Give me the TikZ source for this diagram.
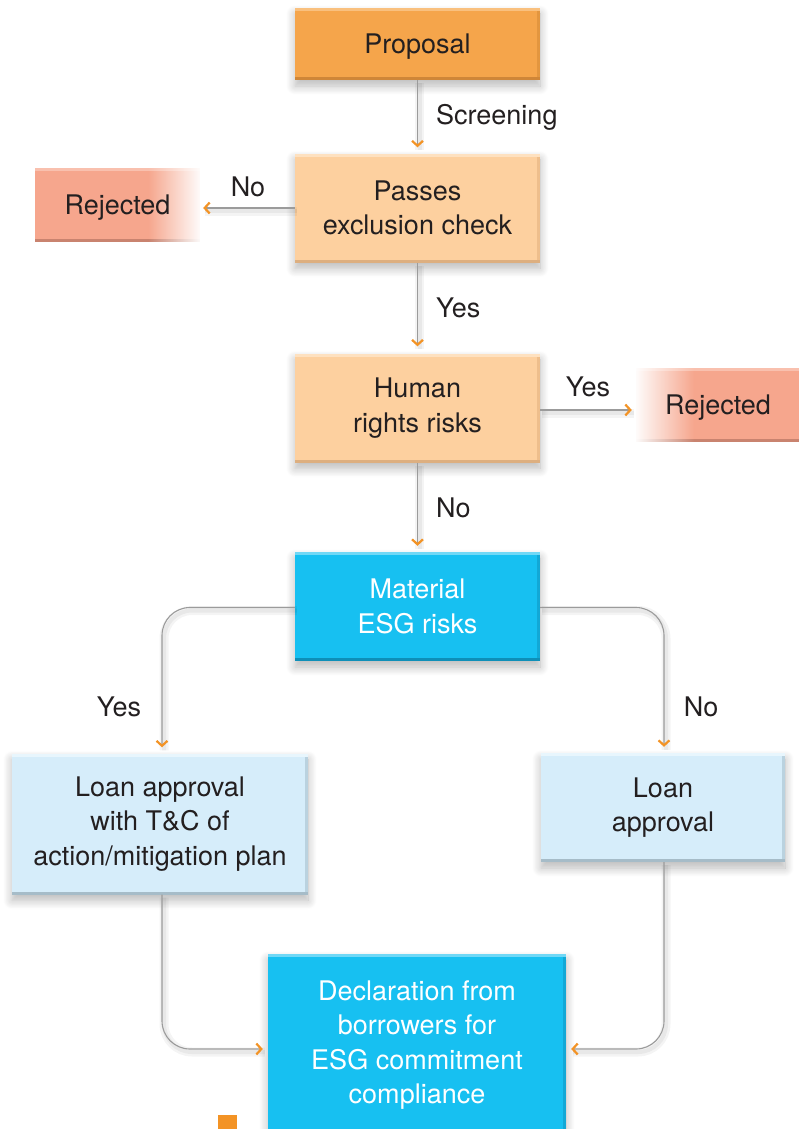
\documentclass[tikz,border=0pt]{standalone}
\usepackage{fontspec}
\setmainfont{TeX Gyre Heros}
\usetikzlibrary{arrows.meta,shadows.blur,fadings}

\definecolor{txt}{HTML}{231F20}
\definecolor{wire}{HTML}{9B9B9B}
\definecolor{tipor}{HTML}{F39325}
\definecolor{propF}{HTML}{F5A54B}
\definecolor{propT}{HTML}{F9C07E}
\definecolor{propB}{HTML}{CF8638}
\definecolor{propR}{HTML}{E3963F}
\definecolor{peachF}{HTML}{FDD09F}
\definecolor{peachT}{HTML}{FEE1C0}
\definecolor{peachB}{HTML}{DDAF80}
\definecolor{peachR}{HTML}{EEBE8C}
\definecolor{cyanF}{HTML}{17C0F1}
\definecolor{cyanT}{HTML}{70D8F6}
\definecolor{cyanB}{HTML}{0E8FB8}
\definecolor{cyanR}{HTML}{12A8D6}
\definecolor{paleF}{HTML}{D6EDFA}
\definecolor{paleT}{HTML}{E8F6FD}
\definecolor{paleB}{HTML}{A6BCC8}
\definecolor{paleR}{HTML}{BAD2DF}
\definecolor{rejF}{HTML}{F6A68D}
\definecolor{rejT}{HTML}{F9C0AE}
\definecolor{rejB}{HTML}{C9836F}

\tikzfading[name=fadeinright, left color=transparent!100, right color=transparent!0]
\tikzfading[name=fadeinleft, left color=transparent!0, right color=transparent!100]

\tikzset{
  bevel/.style n args={4}{
    fill=#1,
    path picture={
      \fill[#4] ([xshift=-3pt]path picture bounding box.north east) rectangle (path picture bounding box.south east);
      \fill[#2] (path picture bounding box.north west) rectangle ([yshift=-3pt]path picture bounding box.north east);
      \fill[#3] ([yshift=3pt]path picture bounding box.south west) rectangle (path picture bounding box.south east);
    }},
  card/.style={rectangle, inner sep=0pt, align=center, text=txt,
    font=\fontsize{27}{34.5}\selectfont,
    blur shadow={shadow xshift=0pt, shadow yshift=-6pt, shadow blur radius=9pt,
      shadow opacity=28, shadow blur steps=12}},
  oneline/.style={text height=19.5pt, text depth=0pt},
  propbox/.style={card, oneline, bevel={propF}{propT}{propB}{propR}},
  peachbox/.style={card, bevel={peachF}{peachT}{peachB}{peachR}},
  cyanbox/.style={card, text=white, bevel={cyanF}{cyanT}{cyanB}{cyanR}},
  palebox/.style={card, bevel={paleF}{paleT}{paleB}{paleR}},
  % rejection boxes: solid fill, fading to white on their open side
  rejbox/.style={rectangle, inner sep=0pt, text=txt, oneline,
    font=\fontsize{27}{34.5}\selectfont},
  rejopenright/.style={rejbox, fill=rejF,
    path picture={
      \fill[rejT] (path picture bounding box.north west) rectangle ([yshift=-3pt]path picture bounding box.north east);
      \fill[rejB] ([yshift=3pt]path picture bounding box.south west) rectangle (path picture bounding box.south east);
      \fill[white, path fading=fadeinright] ([xshift=-52pt]path picture bounding box.north east) rectangle ([xshift=2pt]path picture bounding box.south east);
    }},
  rejopenleft/.style={rejbox, fill=rejF,
    path picture={
      \fill[rejT] (path picture bounding box.north west) rectangle ([yshift=-3pt]path picture bounding box.north east);
      \fill[rejB] ([yshift=3pt]path picture bounding box.south west) rectangle (path picture bounding box.south east);
      \fill[white, path fading=fadeinleft] ([xshift=-2pt]path picture bounding box.north west) rectangle ([xshift=58pt]path picture bounding box.south west);
    }},
  lbl/.style={text=txt, inner sep=0pt, font=\fontsize{27}{34.5}\selectfont},
  flow/.style={draw=wire, line width=1.1pt,
    preaction={draw=black, draw opacity=0.045, line width=9pt, arrows=-,
      transform canvas={xshift=2pt, yshift=-3pt}},
    preaction={draw=black, draw opacity=0.05, line width=4pt, arrows=-,
      transform canvas={xshift=2pt, yshift=-3pt}},
    -{Straight Barb[color=tipor, length=5pt, width=11pt, line width=2.2pt]}},
}

\begin{document}
\begin{tikzpicture}[x=1pt, y=-1pt]
\useasboundingbox (0,0) rectangle (798,1129);

% decision chain
\node[propbox, minimum width=245pt, minimum height=72pt] (prop) at (417.5,44) {Proposal};
\node[peachbox, minimum width=245pt, minimum height=109pt] (pass) at (417.5,208) {Passes\\exclusion check};
\node[peachbox, minimum width=245pt, minimum height=109pt] (human) at (417.5,408) {Human\\rights risks};
\node[cyanbox, minimum width=245pt, minimum height=109pt] (mat) at (417.5,606.5) {Material\\ESG risks};

% rejections
\node[rejopenright, minimum width=165pt, minimum height=74pt] (rejL) at (117.5,205) {Rejected};
\node[rejopenleft, minimum width=164pt, minimum height=74pt] (rejR) at (718,405) {Rejected};

% outcomes
\node[palebox, minimum width=296pt, minimum height=141pt] (loantc) at (160,824) {Loan approval\\with T\&C of\\action/mitigation plan};
\node[palebox, minimum width=244pt, minimum height=109pt] (loan) at (663,807.5) {Loan\\approval};
\node[cyanbox, minimum width=298pt, minimum height=182pt] (decl) at (417,1045) {Declaration from\\borrowers for\\ESG commitment\\compliance};

\fill[tipor] (218,1115) rectangle (237,1135);

% connectors
\draw[flow, shorten >=6pt] (prop.south) -- (pass.north);
\draw[flow, shorten >=3pt] (pass.west) -- (pass.west -| rejL.east);
\draw[flow, shorten >=7pt] (pass.south) -- (human.north);
\draw[flow, shorten >=4pt] ([yshift=-2pt]human.east) -- ([yshift=-2pt]human.east -| rejR.west);
\draw[flow, shorten >=6pt] (human.south) -- (mat.north);
\draw[flow, shorten >=6pt, rounded corners=28pt] ([yshift=-1pt]mat.west) -| ([xshift=2pt]loantc.north);
\draw[flow, shorten >=6pt, rounded corners=28pt] ([yshift=-1pt]mat.east) -| ([xshift=1pt]loan.north);
\draw[flow, shorten >=5pt, rounded corners=28pt] ([xshift=2pt]loantc.south) |- ([yshift=-4pt]decl.west);
\draw[flow, shorten >=5pt, rounded corners=28pt] ([xshift=1pt]loan.south) |- ([yshift=-4pt]decl.east);

% connector labels
\node[lbl, anchor=west] (lscreen) at (436,117) {Screening};
\node[lbl] (lnoL) at (248,187) {No};
\node[lbl, anchor=west] (lyesD) at (436,308) {Yes};
\node[lbl] (lyesR) at (588,387) {Yes};
\node[lbl, anchor=west] (lnoD) at (436,508) {No};
\node[lbl] (lyesM) at (119,707) {Yes};
\node[lbl] (lnoM) at (701,707) {No};
\end{tikzpicture}
\end{document}
